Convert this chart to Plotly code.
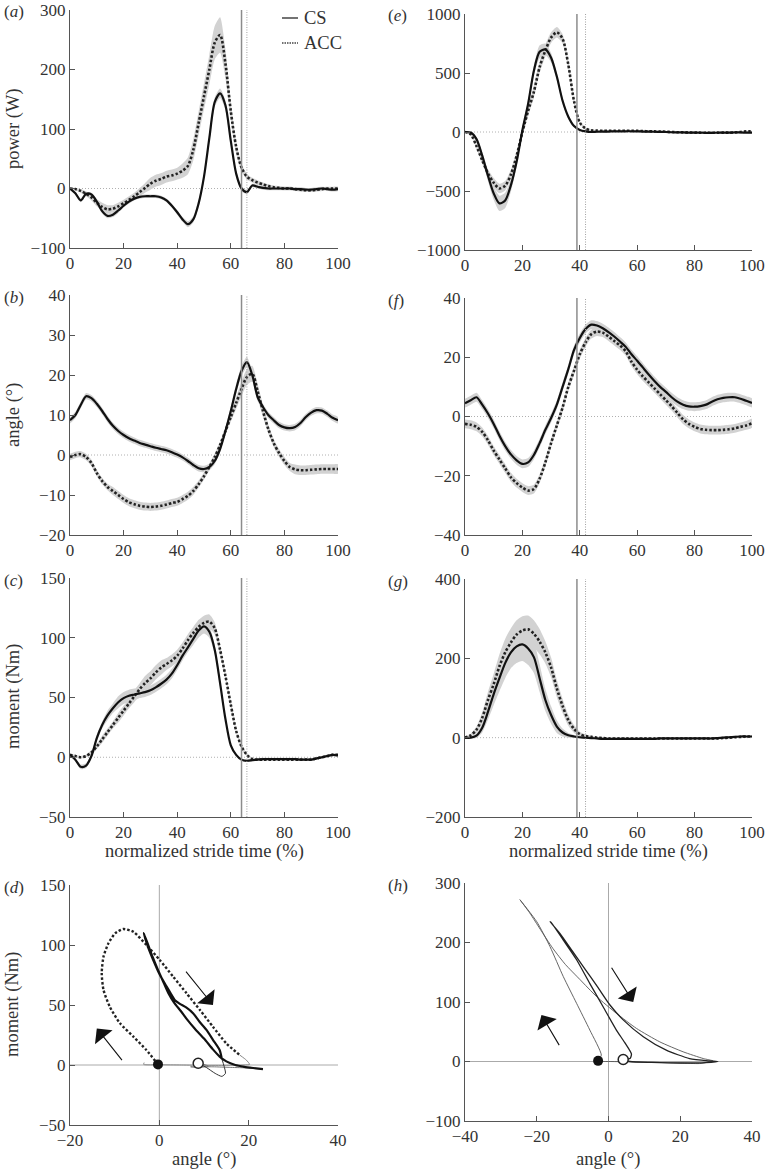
import plotly.graph_objects as go

# ---------------- data ----------------
stride_pct = list(range(0, 101, 2))  # normalized stride time (%)

# (a) power (W) - left column
power_cs_a = [0, -8, -20, -9, -10, -22, -38, -46, -44, -37,
              -29, -22, -17, -14, -13, -13, -13, -15, -20, -29,
              -40, -52, -60, -52, -25, 20, 85, 145, 160, 140,
              80, 25, 0, -6, 5, 3, 1, 0, 0, 0, 0,
              0, -1, -1, -2, -2, -1, 0, -1, -2, -1]
power_cs_a_sd = [1, 2, 3, 3, 3, 4, 4, 4, 4, 4,
                 3, 3, 3, 3, 3, 3, 3, 3, 3, 3,
                 4, 4, 5, 5, 6, 7, 8, 8, 8, 8,
                 7, 5, 4, 3, 3, 3, 3, 3, 3, 3, 3,
                 3, 3, 3, 3, 3, 3, 3, 3, 3, 3]
power_acc_a = [0, -1, -4, -9, -15, -24, -31, -35, -34, -30,
               -25, -19, -13, -6, 1, 8, 13, 16, 20, 22,
               25, 30, 38, 65, 110, 155, 200, 245, 258, 210,
               130, 70, 35, 20, 14, 10, 7, 4, 2, 1, 0,
               0, -1, -2, -3, -3, -2, -1, 0, 0, 0]
power_acc_a_sd = [1, 2, 3, 4, 5, 6, 7, 7, 6, 6,
                  6, 6, 6, 7, 8, 10, 10, 10, 10, 10,
                  10, 12, 14, 18, 20, 22, 25, 28, 30, 25,
                  15, 10, 6, 5, 4, 4, 3, 3, 3, 3, 3,
                  3, 3, 3, 3, 3, 3, 3, 3, 3, 3]

# (b) angle (deg)
angle_cs_b = [8.7, 10.0, 12.5, 14.7, 14.2, 12.8, 11.0, 9.0, 7.3, 6.0,
              5.0, 4.2, 3.6, 3.0, 2.6, 2.2, 1.8, 1.5, 1.2, 0.7,
              0.1, -0.6, -1.5, -2.5, -3.3, -3.5, -3.0, -1.5, 1.5, 6.0,
              11.0, 16.5, 21.0, 23.2, 20.0, 14.5, 12.0, 10.0, 8.7, 7.5, 6.9,
              6.7, 7.0, 8.0, 9.5, 10.6, 11.2, 11.1, 10.3, 9.3, 8.7]
angle_cs_b_sd = [0.8] * 30 + [1.0, 1.2, 1.3, 1.3, 1.2, 1.0] + [0.8] * 15
angle_acc_b = [-0.5, 0.0, 0.2, -0.5, -2.0, -4.5, -6.5, -8.0, -9.0, -10.0,
               -11.0, -11.8, -12.3, -12.7, -12.9, -13.0, -12.9, -12.7, -12.4, -12.0,
               -11.7, -11.0, -10.2, -9.0, -7.3, -5.3, -3.0, -0.5, 2.5, 6.0,
               9.5, 13.0, 16.5, 19.5, 20.3, 16.0, 11.0, 6.5, 3.0, 0.5, -1.5,
               -3.0, -3.6, -3.8, -3.8, -3.7, -3.6, -3.5, -3.5, -3.5, -3.5]
angle_acc_b_sd = [0.8] * 8 + [1.0] * 16 + [0.9] * 6 + [1.2, 1.5, 1.8, 2.0, 2.0, 1.8, 1.5, 1.2] + [1.0] * 4 + [1.2] * 9

# (c) moment (Nm)
moment_cs_c = [2, -2, -8, -7, 1, 16, 27, 35, 41, 46,
               49.5, 51.5, 52.5, 53.5, 54.5, 56, 58.5, 61.5, 65, 70,
               77, 85, 92, 99, 106, 109.5, 105, 90, 62, 32,
               10, 2, -2, -3, -2.5, -2, -1.5, -1.5, -1.5, -1.5, -1.5,
               -1.5, -1.5, -2, -2, -2, -1, 0, 1, 2, 1.5]
moment_cs_c_sd = [1, 1, 2, 2, 2, 3, 3, 4, 4, 5,
                  5, 5, 5, 4, 4, 4, 4, 4, 4, 4,
                  4, 4, 4, 5, 6, 6, 5, 4, 3, 2,
                  1, 1, 1, 1, 1, 1, 1, 1, 1, 1, 1,
                  1, 1, 1, 1, 1, 1, 1, 1, 1, 1]
moment_acc_c = [2, 1, 0, 1, 4, 9, 15, 21, 27, 33,
                39, 45, 51, 57, 62, 66, 71, 75, 78, 81,
                85, 91, 98, 104, 109, 112.5, 113.5, 108, 90, 68,
                44, 22, 9, 2, -1.5, -2, -2, -2, -2, -2, -2,
                -2, -2, -2, -2, -2, -1, 0, 1, 2, 2]
moment_acc_c_sd = [1, 1, 1, 1, 2, 2, 3, 3, 3, 4,
                   4, 4, 5, 5, 6, 6, 6, 6, 5, 5,
                   5, 5, 5, 5, 6, 6, 6, 5, 4, 3,
                   3, 2, 2, 1, 1, 1, 1, 1, 1, 1, 1,
                   1, 1, 1, 1, 1, 1, 1, 1, 1, 1]

# (e) power (W) - right column
power_cs_e = [0, -5, -60, -200, -370, -520, -605, -580, -450, -250,
              15, 240, 520, 680, 700, 630, 470, 265, 130, 50,
              17, 5, 0, 2, 3, 4, 5, 5, 6, 6,
              5, 4, 3, 2, 1, 0, -2, -3, -4, -5, -6,
              -6, -7, -7, -6, -6, -5, -4, -4, -5, -6]
power_cs_e_sd = [2, 5, 15, 30, 45, 55, 65, 65, 55, 40,
                 30, 30, 40, 55, 50, 40, 30, 25, 15, 10,
                 5, 5, 5, 5, 5, 5, 5, 5, 5, 5,
                 5, 5, 5, 5, 5, 5, 5, 5, 5, 5, 5,
                 5, 5, 5, 5, 5, 5, 5, 5, 5, 5]
power_acc_e = [0, -20, -120, -240, -350, -430, -478, -455, -360, -200,
               0, 180, 340, 550, 690, 800, 845, 790, 570, 260,
               80, 30, 15, 12, 10, 10, 10, 10, 10, 10,
               10, 8, 6, 5, 4, 2, 0, -2, -3, -4, -5,
               -6, -6, -6, -6, -5, -5, -4, 0, 5, 5]
power_acc_e_sd = [2, 10, 20, 30, 35, 40, 40, 40, 40, 40,
                  40, 45, 50, 50, 50, 45, 45, 40, 35, 25,
                  12, 8, 6, 5, 5, 5, 5, 5, 5, 5,
                  5, 5, 5, 5, 5, 5, 5, 5, 5, 5, 5,
                  5, 5, 5, 5, 5, 5, 5, 5, 5, 5]

# (f) angle (deg)
angle_cs_f = [4.5, 5.5, 6.5, 4.0, 1.0, -2.5, -6.5, -10.0, -12.8, -14.8,
              -16.0, -15.5, -13.0, -9.0, -4.5, -0.5, 4.0, 10.0, 16.0, 22.5,
              26.5, 29.5, 31.0, 30.7, 29.8, 28.5, 27.0, 25.3, 23.5, 21.0,
              18.8, 16.5, 14.2, 12.0, 10.0, 8.3, 6.5, 5.0, 4.0, 3.4, 3.3,
              3.5, 4.0, 5.0, 5.8, 6.3, 6.5, 6.5, 6.0, 5.3, 4.6]
angle_cs_f_sd = [1.5] * 51
angle_acc_f = [-2.5, -2.8, -3.5, -5.2, -8.0, -11.5, -14.5, -17.5, -20.5, -22.5,
               -24.0, -25.0, -24.5, -21.0, -15.5, -9.0, -3.0, 3.0, 10.0, 15.5,
               21.0, 25.0, 27.8, 28.7, 28.3, 27.0, 25.5, 24.0, 22.0, 18.5,
               15.8, 13.5, 11.5, 9.5, 7.5, 5.5, 3.5, 1.2, -1.0, -2.5, -3.5,
               -4.2, -4.5, -4.6, -4.6, -4.5, -4.3, -4.0, -3.5, -3.0, -2.3]
angle_acc_f_sd = [1.5] * 51

# (g) moment (Nm)
moment_cs_g = [0, 0, 5, 25, 65, 110, 150, 188, 215, 230,
               235, 225, 203, 150, 95, 57, 28, 13, 6, 3,
               1, 0, -1, -2, -3, -3, -3, -3, -3, -3,
               -3, -3, -3, -3, -2, -2, -2, -2, -2, -2, -2,
               -2, -2, -2, -1, 0, 1, 2, 3, 3, 3]
moment_cs_g_sd = [2, 3, 6, 12, 20, 28, 33, 38, 40, 42,
                  42, 42, 40, 35, 28, 22, 16, 10, 6, 4,
                  3, 2, 2, 2, 2, 2, 2, 2, 2, 2,
                  2, 2, 2, 2, 2, 2, 2, 2, 2, 2, 2,
                  2, 2, 2, 2, 2, 2, 2, 2, 2, 2]
moment_acc_g = [0, 6, 20, 50, 95, 135, 180, 215, 240, 260,
                270, 273, 262, 242, 215, 177, 124, 80, 44, 22,
                9, 4, 2, 0, -1, -2, -2, -2, -2, -2,
                -2, -2, -2, -2, -2, -2, -2, -2, -2, -2, -2,
                -2, -2, -2, -2, -1, 0, 1, 2, 3, 3]
moment_acc_g_sd = [2, 4, 8, 14, 20, 26, 30, 34, 36, 36,
                   36, 35, 34, 32, 28, 25, 22, 18, 14, 10,
                   6, 4, 3, 2, 2, 2, 2, 2, 2, 2,
                   2, 2, 2, 2, 2, 2, 2, 2, 2, 2, 2,
                   2, 2, 2, 2, 2, 2, 2, 2, 2, 2]

# toe-off events (% stride)
toe_off_left = {"CS": 64, "ACC": 66}
toe_off_right = {"CS": 39, "ACC": 42}

# (d) moment-angle loops, left column (angle deg, moment Nm), read in stride order
d_cs_early_angle = [8.7, 10.5, 12.5, 14.0, 14.8, 14.5, 14.0]
d_cs_early_moment = [1.5, -2.0, -7.0, -9.5, -7.0, -1.0, 5.0]
d_cs_stance_angle = [14.0, 13.5, 12.0, 10.6, 9.0, 7.6, 6.0, 4.6, 3.5, 2.5, 1.2, 0.0, -1.2, -2.4, -3.5,
                     -2.5, -1.5, -0.4, 0.8, 2.0, 3.3, 4.8, 6.2, 8.0, 10.0, 12.0, 13.5, 15.0, 17.0, 19.0, 21.0, 23.2]
d_cs_stance_moment = [5.0, 12.5, 21.0, 29.0, 36.0, 43.0, 48.0, 51.0, 54.0, 60.0, 68.0, 76.0, 86.0, 97.0, 110.0,
                      100.0, 90.0, 80.0, 70.0, 60.0, 52.0, 45.0, 38.0, 30.0, 22.0, 13.0, 7.0, 3.0, 0.0, -1.5, -2.5, -3.5]
d_cs_swing_angle = [23.2, 20.0, 16.0, 12.0, 8.0, 7.0, 8.0, 10.0, 11.0, 10.0, 8.7]
d_cs_swing_moment = [-3.5, -2.5, -2.0, -1.5, -1.5, -1.5, -1.8, -1.5, -1.0, 0.5, 1.5]
d_acc_stance_angle = [-0.3, -2.9, -5.8, -8.8, -11.1, -12.5, -12.9, -12.5, -11.4, -9.9, -8.1,
                      -5.8, -2.9, 0.1, 3.1, 6.1, 9.1, 12.0, 15.0, 18.0]
d_acc_stance_moment = [0.5, 12.5, 23.6, 34.7, 48.6, 62.5, 76.4, 90.3, 101.4, 109.7, 113.3,
                       111.0, 100.0, 87.5, 73.6, 59.7, 45.8, 31.9, 18.0, 8.3]
d_acc_swing_angle = [18.0, 19.5, 20.2, 19.0, 15.0, 10.0, 5.0, 0.0, -3.5, -3.4]
d_acc_swing_moment = [8.3, 4.0, 0.5, 0.0, -0.3, -0.3, 0.0, 0.2, 0.5, 2.0]

# (h) moment-angle loops, right column
h_cs_angle = [4.1, 6.0, 6.4, 4.5, 2.2, -1.5, -5.2, -8.9, -12.6, -15.9, -16.3,
              -13.5, -10.0, -6.5, -3.0, 0.4, 4.1, 9.7, 16.1, 22.6, 28.2, 30.5,
              27.0, 20.0, 12.0, 6.0, 4.1]
h_cs_moment = [3.4, 5.0, 12.4, 32.0, 52.8, 92.0, 131.0, 171.0, 204.0, 233.0, 235.0,
               215.0, 185.0, 155.0, 125.0, 95.0, 70.0, 41.6, 19.0, 5.0, 1.0, 0.0,
               -2.0, -2.5, -1.5, 0.0, 3.4]
h_acc_angle = [-2.9, -2.0, -5.2, -8.9, -12.6, -16.3, -20.0, -24.7,
               -22.0, -19.0, -15.5, -12.0, -8.0, -3.3, 2.2, 7.8, 14.3, 20.8, 26.4, 29.1,
               25.4, 20.0, 10.0, 0.0, -1.5, -2.9]
h_acc_moment = [1.1, 10.7, 52.8, 97.8, 142.7, 193.0, 235.0, 272.0,
                250.0, 222.0, 190.0, 163.0, 138.0, 109.0, 81.0, 55.6, 33.0, 16.3, 5.0, 1.0,
                -3.4, -2.5, -1.0, 0.0, 0.0, 1.1]

# direction arrows (tail -> head) in data units
arrows_d = [((-8.1, 2.8), (-14.0, 30.5)), ((5.7, 79.0), (12.0, 50.0))]
arrows_h = [((-13.5, 25.0), (-18.7, 78.0)), ((0.6, 160.0), (6.9, 100.0))]

# ---------------- layout helpers ----------------
W, H = 766, 1170
FONT = "Liberation Serif"
AX_COL = "#555555"
BAND = "#d2d2d2"
ACC_DOT = "2.5px,2px"


def px_x(x):
    return x / W


def px_y(y):
    return 1 - y / H


panels = {
    "a": (1, (70, 338), (10, 248), [0, 100], [-100, 300], 100, 20),
    "b": (2, (70, 338), (295, 535), [0, 100], [-20, 40], 10, 20),
    "c": (3, (70, 338), (578, 817), [0, 100], [-50, 150], 50, 20),
    "d": (4, (70, 338), (885, 1125), [-20, 40], [-50, 150], 50, 20),
    "e": (5, (465, 752), (14, 250), [0, 100], [-1000, 1000], 500, 20),
    "f": (6, (465, 752), (298, 535), [0, 100], [-40, 40], 20, 20),
    "g": (7, (465, 752), (579, 817), [0, 100], [-200, 400], 200, 20),
    "h": (8, (465, 752), (883, 1121), [-40, 40], [-100, 300], 100, 20),
}

fig = go.Figure()
layout = dict(
    width=W, height=H, margin=dict(l=0, r=0, t=0, b=0, pad=0, autoexpand=False),
    paper_bgcolor="white", plot_bgcolor="white", showlegend=False,
    font=dict(family=FONT, size=17, color="#333333"),
)
shapes = []
annotations = []
tick_font = dict(family=FONT, size=17, color="#333333")
title_font = dict(family=FONT, size=18.5, color="#333333")

for name, (i, xr, yr, xrange, yrange, ydt, xdt) in panels.items():
    sx = "" if i == 1 else str(i)
    common = dict(showgrid=False, zeroline=False, showline=True, linecolor=AX_COL,
                  linewidth=1, ticks="inside", ticklen=5, tickcolor=AX_COL,
                  tickfont=tick_font, ticklabeloverflow="allow", automargin=False)
    layout["xaxis" + sx] = dict(domain=[px_x(xr[0]), px_x(xr[1])], range=xrange,
                                dtick=xdt, tick0=xrange[0], anchor="y" + sx, **common)
    layout["yaxis" + sx] = dict(domain=[px_y(yr[1]), px_y(yr[0])], range=yrange,
                                dtick=ydt, tick0=yrange[0], anchor="x" + sx, **common)
    lx = 2 if xr[0] < 200 else 386
    annotations.append(dict(text="(<i>%s</i>)" % name, x=px_x(lx), y=px_y(yr[0] + 2),
                            xref="paper", yref="paper", xanchor="left", yanchor="middle",
                            showarrow=False, font=dict(family=FONT, size=17, color="#333")))


def xref(i):
    return "x" if i == 1 else "x%d" % i


def yref(i):
    return "y" if i == 1 else "y%d" % i


def add_band(i, mean, sd):
    up = [m + s for m, s in zip(mean, sd)]
    lo = [m - s for m, s in zip(mean, sd)]
    fig.add_trace(go.Scatter(x=stride_pct + stride_pct[::-1], y=up + lo[::-1],
                             fill="toself", fillcolor=BAND, mode="lines",
                             line=dict(width=0, color=BAND, shape="spline", smoothing=0.6),
                             hoverinfo="skip", xaxis=xref(i), yaxis=yref(i)))


def add_line(i, y, kind):
    if kind == "CS":
        line = dict(color="#111111", width=2.2, shape="spline", smoothing=0.8)
    else:
        line = dict(color="#222222", width=2.6, dash=ACC_DOT, shape="spline", smoothing=0.8)
    fig.add_trace(go.Scatter(x=stride_pct, y=y, mode="lines", line=line, name=kind,
                             xaxis=xref(i), yaxis=yref(i)))


time_panels = [
    (1, power_cs_a, power_cs_a_sd, power_acc_a, power_acc_a_sd, toe_off_left),
    (2, angle_cs_b, angle_cs_b_sd, angle_acc_b, angle_acc_b_sd, toe_off_left),
    (3, moment_cs_c, moment_cs_c_sd, moment_acc_c, moment_acc_c_sd, toe_off_left),
    (5, power_cs_e, power_cs_e_sd, power_acc_e, power_acc_e_sd, toe_off_right),
    (6, angle_cs_f, angle_cs_f_sd, angle_acc_f, angle_acc_f_sd, toe_off_right),
    (7, moment_cs_g, moment_cs_g_sd, moment_acc_g, moment_acc_g_sd, toe_off_right),
]

for i, cs, cs_sd, acc, acc_sd, toe in time_panels:
    add_band(i, acc, acc_sd)
    add_band(i, cs, cs_sd)
    shapes.append(dict(type="line", xref=xref(i) + " domain", yref=yref(i), x0=0, x1=1,
                       y0=0, y1=0, line=dict(color="#b0b0b0", width=1, dash="1px,2px"), layer="below"))
    shapes.append(dict(type="line", xref=xref(i), yref=yref(i) + " domain", x0=toe["CS"],
                       x1=toe["CS"], y0=0, y1=1, line=dict(color="#8c8c8c", width=1.5)))
    shapes.append(dict(type="line", xref=xref(i), yref=yref(i) + " domain", x0=toe["ACC"],
                       x1=toe["ACC"], y0=0, y1=1, line=dict(color="#a0a0a0", width=1, dash="1px,1.5px")))
    add_line(i, acc, "ACC")
    add_line(i, cs, "CS")

# ---------------- phase plots ----------------
for i in (4, 8):
    shapes.append(dict(type="line", xref=xref(i) + " domain", yref=yref(i), x0=0, x1=1,
                       y0=0, y1=0, line=dict(color="#aaaaaa", width=1), layer="below"))
    shapes.append(dict(type="line", xref=xref(i), yref=yref(i) + " domain", x0=0, x1=0,
                       y0=0, y1=1, line=dict(color="#aaaaaa", width=1), layer="below"))


def phase(i, ang, mom, style):
    fig.add_trace(go.Scatter(x=ang, y=mom, mode="lines",
                             line=dict(shape="spline", smoothing=0.6, **style),
                             hoverinfo="skip", xaxis=xref(i), yaxis=yref(i)))


phase(4, d_acc_swing_angle, d_acc_swing_moment, dict(color="#888888", width=1))
phase(4, d_cs_swing_angle, d_cs_swing_moment, dict(color="#777777", width=1))
phase(4, d_acc_stance_angle, d_acc_stance_moment, dict(color="#222222", width=2.4, dash=ACC_DOT))
phase(4, d_cs_early_angle, d_cs_early_moment, dict(color="#333333", width=1))
phase(4, d_cs_stance_angle, d_cs_stance_moment, dict(color="#111111", width=2.2))
phase(8, h_acc_angle, h_acc_moment, dict(color="#555555", width=0.9))
phase(8, h_cs_angle, h_cs_moment, dict(color="#222222", width=1.3))

for i, cs_xy, acc_xy in [(4, (d_cs_early_angle[0], d_cs_early_moment[0]),
                          (d_acc_stance_angle[0], d_acc_stance_moment[0])),
                         (8, (h_cs_angle[0], h_cs_moment[0]), (h_acc_angle[0], h_acc_moment[0]))]:
    fig.add_trace(go.Scatter(x=[acc_xy[0]], y=[acc_xy[1]], mode="markers",
                             marker=dict(size=10, color="#111111"),
                             xaxis=xref(i), yaxis=yref(i), hoverinfo="skip"))
    fig.add_trace(go.Scatter(x=[cs_xy[0]], y=[cs_xy[1]], mode="markers",
                             marker=dict(size=10, color="white", line=dict(color="#222222", width=1.5)),
                             xaxis=xref(i), yaxis=yref(i), hoverinfo="skip"))

for i, arrow_list in [(4, arrows_d), (8, arrows_h)]:
    for tail, head in arrow_list:
        annotations.append(dict(x=head[0], y=head[1], ax=tail[0], ay=tail[1],
                                xref=xref(i), yref=yref(i), axref=xref(i), ayref=yref(i),
                                showarrow=True, arrowhead=1, arrowsize=3.4, arrowwidth=1.1,
                                arrowcolor="#111111", text=""))

# ---------------- axis titles ----------------
for text, y in [("power (W)", 129), ("angle (°)", 415), ("moment (Nm)", 697), ("moment (Nm)", 1005)]:
    annotations.append(dict(text=text, x=px_x(13), y=px_y(y), xref="paper", yref="paper",
                            textangle=-90, showarrow=False, xanchor="center", yanchor="middle",
                            font=title_font))
for text, x, y in [("normalized stride time (%)", 204, 851), ("normalized stride time (%)", 608, 851),
                   ("angle (°)", 204, 1159), ("angle (°)", 608, 1159)]:
    annotations.append(dict(text=text, x=px_x(x), y=px_y(y), xref="paper", yref="paper",
                            showarrow=False, xanchor="center", yanchor="middle", font=title_font))

# ---------------- legend (panel a) ----------------
for label, ypx, dash in [("CS", 18, "solid"), ("ACC", 43, "1.5px,1px")]:
    shapes.append(dict(type="line", xref="paper", yref="paper", x0=px_x(282), x1=px_x(298),
                       y0=px_y(ypx), y1=px_y(ypx), line=dict(color="#444444", width=1.5, dash=dash)))
    annotations.append(dict(text=label, x=px_x(302), y=px_y(ypx), xref="paper", yref="paper",
                            xanchor="left", yanchor="middle", showarrow=False, font=title_font))

layout["shapes"] = shapes
layout["annotations"] = annotations
fig.update_layout(**layout)
fig.write_html("out.html", config={"displayModeBar": False},
               post_script="document.body.style.margin='0px';document.body.style.overflow='hidden';")
